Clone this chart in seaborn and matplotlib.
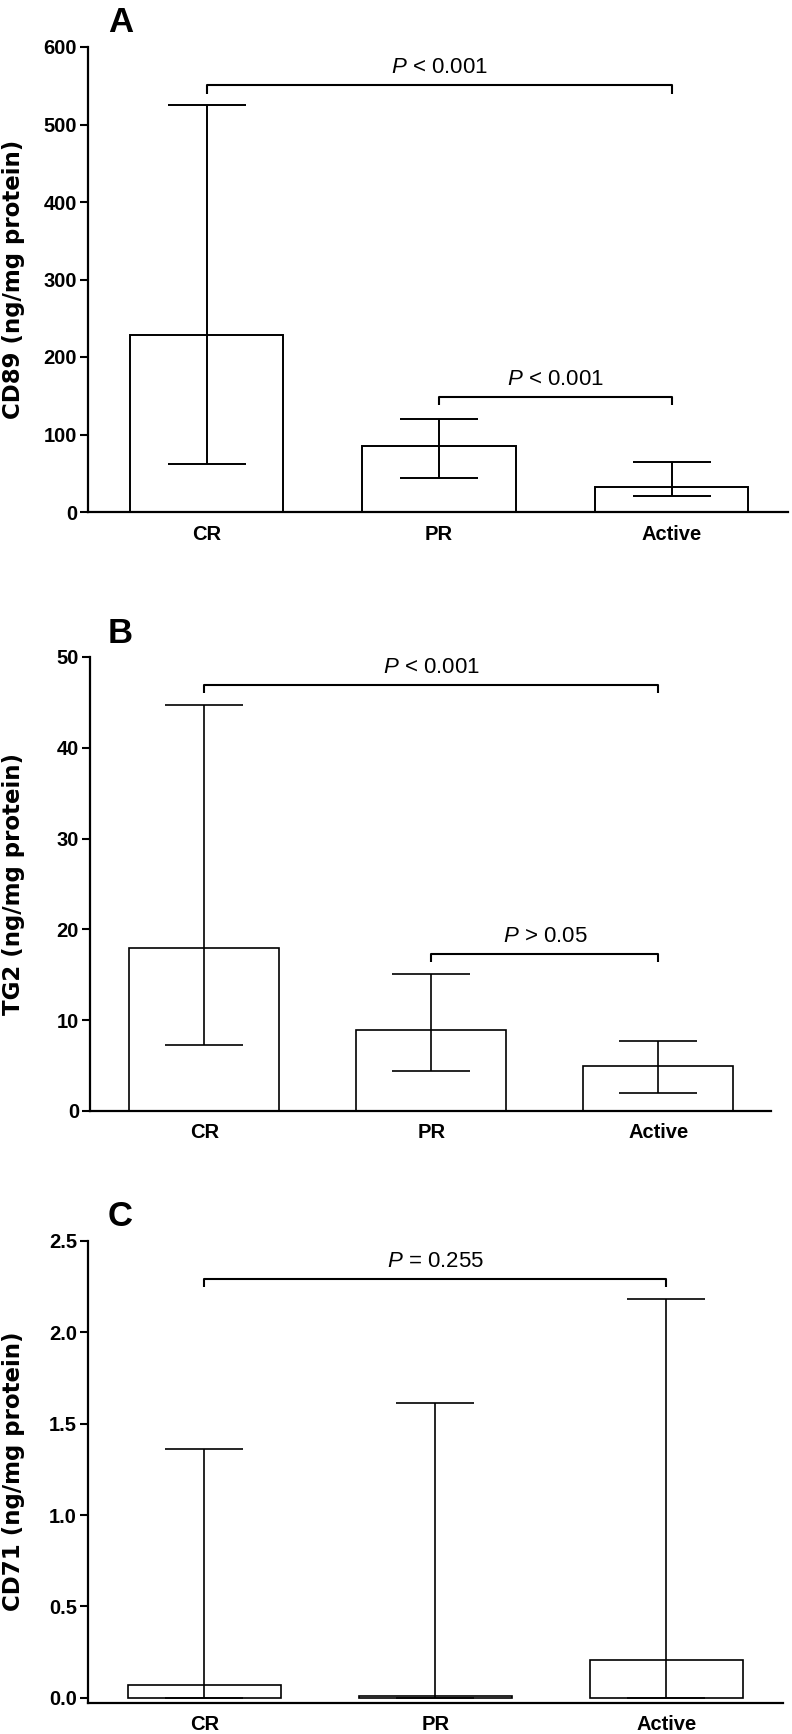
import numpy as np
import matplotlib
matplotlib.use('Agg')
import matplotlib.pyplot as plt
import seaborn as sns

groups = ['CR', 'PR', 'Active']

# panel A - CD89
cd89_mid = [228, 85.5, 32]
cd89_low = [62, 43.5, 20.6]
cd89_high = [525, 120, 65]

# panel B - TG2
tg2_mid = [18.0, 8.9, 5.0]
tg2_low = [7.25, 4.4, 1.95]
tg2_high = [44.7, 15.05, 7.7]

# panel C - CD71
cd71_mid = [0.07, 0.01, 0.21]
cd71_low = [0.0, 0.0, 0.0]
cd71_high = [1.36, 1.61, 2.18]

sns.set_style('ticks')
plt.rcParams['font.family'] = ['Liberation Sans', 'DejaVu Sans']
plt.rcParams['mathtext.fontset'] = 'custom'
plt.rcParams['mathtext.it'] = 'Liberation Sans:italic'
plt.rcParams['mathtext.rm'] = 'Liberation Sans'
for k in ['text.color', 'axes.labelcolor', 'xtick.color', 'ytick.color', 'axes.edgecolor']:
    plt.rcParams[k] = 'black'

W, H = 792, 1734
fig = plt.figure(figsize=(W / 100, H / 100), dpi=100)


def make_axes(left, bottom, width, height):
    # pixel box -> figure fraction
    return fig.add_axes([left / W, 1 - bottom / H, width / W, height / H])


def bracket(ax, x1, x2, y, drop, text):
    ax.plot([x1, x1, x2, x2], [y - drop, y, y, y - drop], color='black', lw=1.5,
            clip_on=False, solid_capstyle='butt')
    ax.annotate(text, xy=((x1 + x2) / 2, y), xytext=(0, 12.5), textcoords='offset points',
                ha='center', va='center', fontsize=16)


def panel(ax, mid, low, high, ylabel, ylim, yticks, xlim, lw=1.3):
    mid = np.array(mid)
    sns.barplot(x=groups, y=mid, ax=ax, color='white', edgecolor='black',
                linewidth=lw, width=0.66, errorbar=None, saturation=1)
    yerr = [mid - np.array(low), np.array(high) - mid]
    ax.errorbar(np.arange(3), mid, yerr=yerr, fmt='none', ecolor='black',
                elinewidth=lw, capsize=28, capthick=lw, zorder=3)
    ax.set_xlim(*xlim)
    ax.set_ylim(*ylim)
    ax.set_yticks(yticks)
    sns.despine(ax=ax)
    for s in ['left', 'bottom']:
        ax.spines[s].set_linewidth(1.6)
    ax.tick_params(axis='y', length=6, width=1.5, pad=2, labelsize=14.5)
    ax.tick_params(axis='x', length=0, pad=9, labelsize=14.5)
    for t in ax.get_xticklabels() + ax.get_yticklabels():
        t.set_fontweight('bold')
    ax.set_ylabel(ylabel, fontsize=16.5, fontweight='bold', family='DejaVu Sans', va='baseline')
    ax.set_xlabel('')


# A
axA = make_axes(88, 512, 700, 465)
panel(axA, cd89_mid, cd89_low, cd89_high, 'CD89 (ng/mg protein)', (0, 600),
      np.arange(0, 601, 100), (-0.51, 2.5), lw=1.4)
axA.yaxis.set_label_coords(-68 / 700, 0.5)
bracket(axA, 0, 2, 551, 11, '$P$ < 0.001')
bracket(axA, 1, 2, 149, 11, '$P$ < 0.001')

# B
axB = make_axes(90, 1111, 681, 454)
panel(axB, tg2_mid, tg2_low, tg2_high, 'TG2 (ng/mg protein)', (0, 50),
      np.arange(0, 51, 10), (-0.504, 2.496), lw=1.2)
axB.yaxis.set_label_coords(-70 / 681, 0.5)
bracket(axB, 0, 2, 46.9, 0.9, '$P$ < 0.001')
bracket(axB, 1, 2, 17.3, 0.9, '$P$ > 0.05')

# C
axC = make_axes(88, 1702.7, 695, 462)
panel(axC, cd71_mid, cd71_low, cd71_high, 'CD71 (ng/mg protein)', (-0.026, 2.5),
      np.arange(0, 2.51, 0.5), (-0.504, 2.505), lw=1.2)
axC.yaxis.set_label_coords(-68 / 695, 0.5)
bracket(axC, 0, 2, 2.29, 0.045, '$P$ = 0.255')

for letter, ybase in [('A', 32), ('B', 643), ('C', 1226)]:
    fig.text(108 / W, 1 - ybase / H, letter, fontsize=25, fontweight='bold',
             ha='left', va='baseline')

fig.savefig('out.png', dpi=100)
